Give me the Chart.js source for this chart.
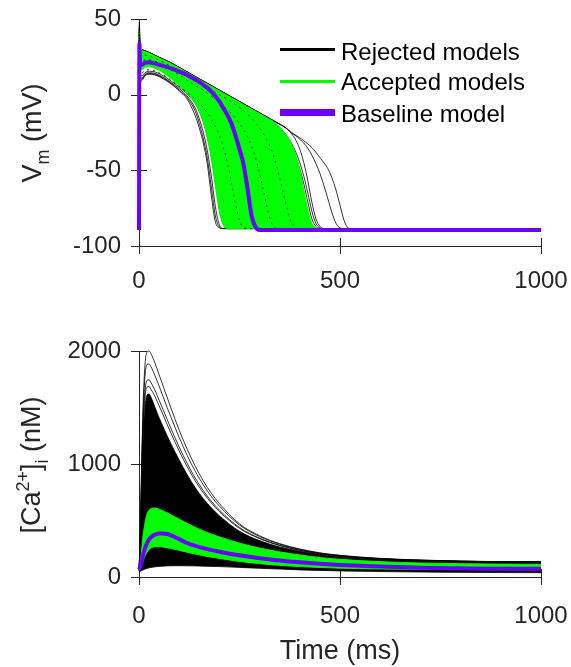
<!DOCTYPE html>
<html>
<head>
<meta charset="utf-8">
<script src="https://cdn.jsdelivr.net/npm/chart.js@4.4.1/dist/chart.umd.min.js"></script>
<style>
  html, body { margin: 0; padding: 0; background: #fff; }
  #wrap { position: relative; width: 571px; height: 667px; overflow: hidden;
          font-family: "Liberation Sans", Arial, sans-serif; color: #262626; }
  #wrap canvas { position: absolute; left: 0; top: 0; }
  .yt { position: absolute; white-space: nowrap; font-size: 27px; line-height: 27px;
        transform: translate(-50%, -50%) rotate(-90deg); }
  .xt { position: absolute; white-space: nowrap; font-size: 27px; line-height: 27px;
        transform: translate(-50%, -50%); }
  .yt sub, .yt sup { font-size: 18px; line-height: 0; }
  .yt sub { vertical-align: -8px; }
  .yt sup { vertical-align: 11px; }
  .lg-line { position: absolute; left: 280px; width: 55px; }
  .lg-text { position: absolute; left: 341px; font-size: 24px; line-height: 24px; white-space: nowrap; color: #000; }
</style>
</head>
<body>
<div id="wrap">
  <canvas id="apChart" width="571" height="667"></canvas>
  <canvas id="caChart" width="571" height="667"></canvas>

  <div class="yt" style="left:32px; top:133px;">V<sub>m</sub> (mV)</div>
  <div class="yt" style="left:31px; top:465px;">[Ca<sup>2+</sup>]<sub>i</sub> (nM)</div>
  <div class="xt" style="left:340px; top:650px;">Time (ms)</div>

  <div class="lg-line" style="top:48px; height:3px; background:#000;"></div>
  <div class="lg-text" style="top:40px;">Rejected models</div>
  <div class="lg-line" style="top:80px; height:3px; background:#00ff00;"></div>
  <div class="lg-text" style="top:70px;">Accepted models</div>
  <div class="lg-line" style="top:109px; height:7px; background:#6a00ff;"></div>
  <div class="lg-text" style="top:102px;">Baseline model</div>
</div>

<script>
// ---------- axis ticks ----------
const timeTicks = [0, 500, 1000];
const timeTickLabels = ['0', '500', '1000'];
const vmTicks = [-100, -50, 0, 50];
const vmTickLabels = ['-100', '-50', '0', '50'];
const caTicks = [0, 1000, 2000];
const caTickLabels = ['0', '1000', '2000'];

// ---------- action potentials (mV) ----------
const apTime = [0, 1, 2, 4, 8, 15, 25, 40, 60, 80, 100, 120,
  140, 150, 160, 170, 180, 190, 200, 210, 220, 230,
  240, 250, 260, 270, 280, 290, 300, 310, 320, 330,
  340, 350, 360, 370, 380, 390, 400, 410, 420, 430,
  440, 450, 460, 470, 480, 490, 500, 510, 520, 530,
  560, 600, 800, 1000];

const apRejectedEarly1 = [-88.5, 42, 20, 9, 9.5, 12.5, 13.5, 13, 10.5, 7, 2.5, -3,
  -14, -22, -32, -46, -67, -84, -88, -88.5, -88.5, -88.5,
  -88.5, -88.5, -88.5, -88.5, -88.5, -88.5, -88.5, -88.5, -88.5, -88.5,
  -88.5, -88.5, -88.5, -88.5, -88.5, -88.5, -88.5, -88.5, -88.5, -88.5,
  -88.5, -88.5, -88.5, -88.5, -88.5, -88.5, -88.5, -88.5, -88.5, -88.5,
  -88.5, -88.5, -88.5, -88.5];
const apRejectedEarly2 = [-88.5, 44, 22, 11, 11, 13.5, 14.5, 14, 11.5, 8, 4, -1,
  -9, -16, -25, -37, -54, -74, -86, -88.5, -88.5, -88.5,
  -88.5, -88.5, -88.5, -88.5, -88.5, -88.5, -88.5, -88.5, -88.5, -88.5,
  -88.5, -88.5, -88.5, -88.5, -88.5, -88.5, -88.5, -88.5, -88.5, -88.5,
  -88.5, -88.5, -88.5, -88.5, -88.5, -88.5, -88.5, -88.5, -88.5, -88.5,
  -88.5, -88.5, -88.5, -88.5];
const apRejectedEarly3 = [-88.5, 40, 24, 13, 12.5, 14.5, 15.5, 15, 12.5, 9, 5, 0.5,
  -6, -11, -18, -28, -41, -58, -76, -86, -88.5, -88.5,
  -88.5, -88.5, -88.5, -88.5, -88.5, -88.5, -88.5, -88.5, -88.5, -88.5,
  -88.5, -88.5, -88.5, -88.5, -88.5, -88.5, -88.5, -88.5, -88.5, -88.5,
  -88.5, -88.5, -88.5, -88.5, -88.5, -88.5, -88.5, -88.5, -88.5, -88.5,
  -88.5, -88.5, -88.5, -88.5];
const apRejectedEarly4 = [-88.5, 41, 21, 10, 10.5, 13, 14, 13.5, 11, 7.5, 3, -2,
  -11, -19, -29, -42, -61, -80, -87.5, -88.5, -88.5, -88.5,
  -88.5, -88.5, -88.5, -88.5, -88.5, -88.5, -88.5, -88.5, -88.5, -88.5,
  -88.5, -88.5, -88.5, -88.5, -88.5, -88.5, -88.5, -88.5, -88.5, -88.5,
  -88.5, -88.5, -88.5, -88.5, -88.5, -88.5, -88.5, -88.5, -88.5, -88.5,
  -88.5, -88.5, -88.5, -88.5];
const apRejectedMid1 = [-88.5, 42, 24, 15, 14.5, 16, 16.5, 15.5, 13, 9.5, 5.5, 1.5,
  -3, -5.5, -8.5, -12, -16, -21, -27, -35, -45, -58,
  -72, -83, -88, -88.5, -88.5, -88.5, -88.5, -88.5, -88.5, -88.5,
  -88.5, -88.5, -88.5, -88.5, -88.5, -88.5, -88.5, -88.5, -88.5, -88.5,
  -88.5, -88.5, -88.5, -88.5, -88.5, -88.5, -88.5, -88.5, -88.5, -88.5,
  -88.5, -88.5, -88.5, -88.5];
const apRejectedMid2 = [-88.5, 43, 28, 22, 22, 23, 23, 22, 19.5, 16.5, 13, 9.5,
  6, 4.5, 3, 1, -1, -3, -5, -7.5, -10, -12.5,
  -15.5, -19, -23, -28, -34, -42, -52, -64, -76, -85,
  -88, -88.5, -88.5, -88.5, -88.5, -88.5, -88.5, -88.5, -88.5, -88.5,
  -88.5, -88.5, -88.5, -88.5, -88.5, -88.5, -88.5, -88.5, -88.5, -88.5,
  -88.5, -88.5, -88.5, -88.5];
const apRejectedMid3 = [-88.5, 44, 30, 25, 25.5, 26, 25.5, 24, 21.5, 18.5, 15.5, 12,
  9, 7.5, 6, 4.5, 3, 1.5, 0, -1.5, -3, -4.5,
  -6.5, -8.5, -10.5, -13, -15.5, -18.5, -22, -26, -31, -37,
  -45, -55, -66, -77, -85, -88, -88.5, -88.5, -88.5, -88.5,
  -88.5, -88.5, -88.5, -88.5, -88.5, -88.5, -88.5, -88.5, -88.5, -88.5,
  -88.5, -88.5, -88.5, -88.5];
const apRejectedTop = [-88.5, 48, 33, 28.5, 29.5, 29, 28, 26, 23.5, 21, 18, 15,
  12, 10.5, 9, 7.5, 6, 4.5, 3, 1.5, 0, -1.5,
  -3, -4.5, -6, -7.5, -9, -10.5, -12, -13.5, -15, -16.5,
  -18, -19.5, -21, -23, -26, -30, -36, -45, -57, -71,
  -82, -87, -88.5, -88.5, -88.5, -88.5, -88.5, -88.5, -88.5, -88.5,
  -88.5, -88.5, -88.5, -88.5];
const apRejectedLate1 = [-88.5, 45, 32, 28, 29, 28.5, 27.5, 25.5, 23, 20.5, 17.5, 14.5,
  11.5, 10, 8.5, 7, 5.5, 4, 2.5, 1, -0.5, -2,
  -3.5, -5, -6.5, -8, -9.5, -11, -12.5, -14, -15.5, -17,
  -19, -21.5, -24.5, -28, -32.5, -38, -45, -54, -65, -77,
  -85, -88, -88.5, -88.5, -88.5, -88.5, -88.5, -88.5, -88.5, -88.5,
  -88.5, -88.5, -88.5, -88.5];
const apRejectedLate2 = [-88.5, 43, 30, 26.5, 27.5, 27, 26, 24, 21.5, 19, 16, 13,
  10, 8.5, 7, 5.5, 4, 2.5, 1, -0.5, -2, -3.5,
  -5, -6.5, -8, -9.5, -11, -12.5, -14, -15.5, -17, -19,
  -21, -23.5, -26.5, -30, -35, -41, -49, -59, -71, -82,
  -87, -88.5, -88.5, -88.5, -88.5, -88.5, -88.5, -88.5, -88.5, -88.5,
  -88.5, -88.5, -88.5, -88.5];
const apRejectedOutlier1 = [-88.5, 47, 33, 28.5, 29.5, 29, 28, 26, 23.5, 21, 18, 15,
  12, 10.5, 9, 7.5, 6, 4.5, 3, 1.5, 0, -1.5,
  -3, -4.5, -6, -7.5, -9, -10.5, -12, -13.5, -15, -16.5,
  -18, -19.5, -21, -23, -25, -27, -29.5, -32, -35.5, -40,
  -45.5, -52, -60, -69, -78, -85, -88, -88.5, -88.5, -88.5,
  -88.5, -88.5, -88.5, -88.5];
const apRejectedOutlier2 = [-88.5, 46, 33, 28.5, 29.5, 29, 28, 26, 23.5, 21, 18, 15,
  12, 10.5, 9, 7.5, 6, 4.5, 3, 1.5, 0, -1.5,
  -3, -4.5, -6, -7.5, -9, -10.5, -12, -13.5, -15, -16.5,
  -18, -19.5, -21, -23, -25.5, -27, -28.5, -30.5, -32.5, -35,
  -38, -41.5, -45, -49, -55, -63, -73, -83, -88, -88.5,
  -88.5, -88.5, -88.5, -88.5];

// accepted population: earliest and latest repolarising members bound the band
const apAcceptedEarly = [-88.5, 41, 26, 17, 16.5, 18, 18.5, 17.5, 14.5, 10.5, 6, 1,
  -6, -11, -18, -28, -42, -60, -77, -86, -88.5, -88.5,
  -88.5, -88.5, -88.5, -88.5, -88.5, -88.5, -88.5, -88.5, -88.5, -88.5,
  -88.5, -88.5, -88.5, -88.5, -88.5, -88.5, -88.5, -88.5, -88.5, -88.5,
  -88.5, -88.5, -88.5, -88.5, -88.5, -88.5, -88.5, -88.5, -88.5, -88.5,
  -88.5, -88.5, -88.5, -88.5];
const apAcceptedLate = [-88.5, 42, 32, 28, 29, 28.5, 27.5, 25.5, 23, 20.5, 17.5, 14.5,
  11.5, 10, 8.5, 7, 5.5, 4, 2.5, 1, -0.5, -2,
  -3.5, -5, -6.5, -8, -9.5, -11, -12.5, -14, -15.5, -17,
  -19, -21.5, -24.5, -28, -33, -40, -50, -63, -76, -85,
  -88, -88.5, -88.5, -88.5, -88.5, -88.5, -88.5, -88.5, -88.5, -88.5,
  -88.5, -88.5, -88.5, -88.5];

const apBaseline = [-89.5, 34, 24, 19.5, 20, 21, 21.5, 20.5, 19, 17.3, 15.3, 13,
  10, 8.5, 6.5, 4.5, 2, -1, -4.5, -9, -13.5, -19,
  -27, -36, -46, -62, -80, -87.5, -89.5, -89.5, -89.5, -89.5,
  -89.5, -89.5, -89.5, -89.5, -89.5, -89.5, -89.5, -89.5, -89.5, -89.5,
  -89.5, -89.5, -89.5, -89.5, -89.5, -89.5, -89.5, -89.5, -89.5, -89.5,
  -89.5, -89.5, -89.5, -89.5];

// ---------- calcium transients (nM) ----------
const caTime = [0, 3, 6, 10, 15, 20, 25, 30, 40, 50, 60, 70, 80, 100, 120, 140,
  160, 180, 200, 250, 300, 350, 400, 450, 500, 600, 700, 800, 900, 1000];

const caRejected1 = [60, 350, 900, 1500, 1880, 1990, 2000, 1975, 1890, 1790, 1690, 1590, 1490, 1300, 1130, 980,
  850, 740, 650, 470, 365, 295, 248, 214, 192, 165, 150, 141, 136, 134];
const caRejected2 = [60, 330, 850, 1420, 1780, 1880, 1885, 1860, 1780, 1690, 1595, 1500, 1410, 1235, 1075, 935,
  815, 712, 627, 460, 358, 290, 244, 211, 190, 163, 149, 140, 135, 133];
const caRejected3 = [60, 300, 800, 1330, 1650, 1740, 1745, 1720, 1650, 1565, 1480, 1395, 1310, 1150, 1005, 875,
  765, 670, 592, 438, 344, 281, 238, 207, 186, 161, 148, 139, 135, 133];
const caRejected4 = [60, 290, 770, 1280, 1590, 1680, 1685, 1660, 1595, 1515, 1435, 1350, 1270, 1115, 975, 850,
  745, 655, 578, 430, 339, 278, 235, 205, 185, 160, 147, 139, 134, 132];
const caRejectedHigh = [60, 270, 700, 1200, 1500, 1610, 1620, 1590, 1500, 1410, 1330, 1250, 1175, 1035, 905, 790,
  693, 612, 542, 405, 322, 266, 228, 200, 180, 156, 143, 137, 134, 133];
const caRejectedLow = [45, 50, 56, 63, 70, 76, 81, 85, 90, 94, 96, 98, 99, 100, 99, 98,
  96, 94, 92, 85, 77, 70, 63, 58, 54, 48, 44, 41, 39, 38];

const caAcceptedHigh = [65, 120, 220, 360, 480, 555, 590, 605, 610, 600, 585, 568, 550, 512, 475, 440,
  408, 380, 355, 300, 256, 222, 195, 172, 156, 136, 124, 118, 114, 112];
const caAcceptedLow = [60, 75, 100, 140, 185, 220, 243, 257, 268, 268, 265, 259, 252, 236, 219, 203,
  189, 176, 164, 138, 118, 103, 92, 84, 78, 71, 68, 66, 65, 65];

const caBaseline = [68, 90, 130, 190, 255, 300, 332, 352, 375, 385, 386, 380, 368, 335, 300, 275,
  255, 238, 224, 192, 166, 146, 130, 117, 107, 92, 82, 77, 73, 72];

// ---------- styling ----------
const FONT = '"Liberation Sans", Arial, sans-serif';
const AXIS = '#262626';
const BLACK = '#000000';
const GREEN = '#00ff00';
const PURPLE = '#6a00ff';

const pts = (t, v) => t.map((x, i) => ({ x, y: v[i] }));

function line(times, values, color, width, order, extra) {
  return Object.assign({
    data: pts(times, values),
    borderColor: color,
    borderWidth: width,
    backgroundColor: color,
    pointRadius: 0,
    fill: false,
    order: order,
    clip: 6,
    cubicInterpolationMode: 'monotone'
  }, extra || {});
}

// tick marks that cross the axis lines (inside and outside)
const crossTicks = {
  id: 'crossTicks',
  beforeDatasetsDraw(chart) {
    const { ctx } = chart;
    const xs = chart.scales.x, ys = chart.scales.y;
    const L = 8;
    ctx.save();
    ctx.strokeStyle = AXIS;
    ctx.lineWidth = 1;
    xs.ticks.forEach(t => {
      const p = Math.round(xs.getPixelForValue(t.value)) + 0.5;
      ctx.beginPath();
      ctx.moveTo(p, ys.bottom - L);
      ctx.lineTo(p, ys.bottom + L);
      ctx.stroke();
    });
    ys.ticks.forEach(t => {
      const p = Math.round(ys.getPixelForValue(t.value)) + 0.5;
      ctx.beginPath();
      ctx.moveTo(xs.left - L, p);
      ctx.lineTo(xs.left + L, p);
      ctx.stroke();
    });
    ctx.restore();
  }
};

function options(yMin, yMax, yTickList, yTickText, pad, xLabelPad) {
  return {
    responsive: false,
    animation: false,
    events: [],
    layout: { padding: pad },
    plugins: { legend: { display: false }, tooltip: { enabled: false } },
    scales: {
      x: {
        type: 'linear', min: 0, max: 1000,
        afterBuildTicks(s) { s.ticks = timeTicks.map(v => ({ value: v })); },
        afterFit(s) { s.height = 50; s.paddingLeft = 0; s.paddingRight = 0; },
        grid: { display: false, drawTicks: false },
        border: { display: true, color: AXIS, width: 1 },
        ticks: { padding: xLabelPad, color: AXIS, font: { family: FONT, size: 24 },
                 maxRotation: 0, autoSkip: false,
                 callback: v => timeTickLabels[timeTicks.indexOf(v)] }
      },
      y: {
        type: 'linear', min: yMin, max: yMax,
        afterBuildTicks(s) { s.ticks = yTickList.map(v => ({ value: v })); },
        afterFit(s) { s.width = 139; s.paddingTop = 0; s.paddingBottom = 0; },
        grid: { display: false, drawTicks: false },
        border: { display: true, color: AXIS, width: 1 },
        ticks: { padding: 18, color: AXIS, font: { family: FONT, size: 24 },
                 callback: v => yTickText[yTickList.indexOf(v)] }
      }
    }
  };
}

const DASHED = { borderDash: [2, 4] };

// ---------- membrane potential panel ----------
new Chart(document.getElementById('apChart'), {
  type: 'line',
  data: {
    datasets: [
      line(apTime, apBaseline, PURPLE, 4, 1),
      line(apTime, apRejectedMid1, BLACK, 0.8, 1.5, DASHED),
      line(apTime, apRejectedMid2, BLACK, 0.8, 1.5, DASHED),
      line(apTime, apRejectedMid3, BLACK, 0.8, 1.5, DASHED),
      line(apTime, apAcceptedEarly, GREEN, 1, 2, { fill: '+1', backgroundColor: GREEN }),
      line(apTime, apAcceptedLate, GREEN, 1, 2),
      line(apTime, apRejectedEarly1, BLACK, 0.8, 3),
      line(apTime, apRejectedEarly2, BLACK, 0.8, 3),
      line(apTime, apRejectedEarly3, BLACK, 0.8, 3),
      line(apTime, apRejectedEarly4, BLACK, 0.8, 3),
      line(apTime, apRejectedTop, BLACK, 0.8, 3),
      line(apTime, apRejectedLate1, BLACK, 0.8, 3),
      line(apTime, apRejectedLate2, BLACK, 0.8, 3),
      line(apTime, apRejectedOutlier1, BLACK, 0.8, 3),
      line(apTime, apRejectedOutlier2, BLACK, 0.8, 3)
    ]
  },
  options: options(-100, 50, vmTicks, vmTickLabels, { left: 0, right: 30, top: 19, bottom: 371 }, 21),
  plugins: [crossTicks]
});

// ---------- intracellular calcium panel ----------
new Chart(document.getElementById('caChart'), {
  type: 'line',
  data: {
    datasets: [
      line(caTime, caBaseline, PURPLE, 4, 1),
      line(caTime, caAcceptedLow, GREEN, 1, 2, { fill: '+1', backgroundColor: GREEN }),
      line(caTime, caAcceptedHigh, GREEN, 1, 2),
      line(caTime, caRejectedLow, BLACK, 0.8, 3, { fill: '+1', backgroundColor: BLACK }),
      line(caTime, caRejectedHigh, BLACK, 0.8, 3),
      line(caTime, caRejected1, BLACK, 0.8, 3),
      line(caTime, caRejected2, BLACK, 0.8, 3),
      line(caTime, caRejected3, BLACK, 0.8, 3),
      line(caTime, caRejected4, BLACK, 0.8, 3)
    ]
  },
  options: options(0, 2000, caTicks, caTickLabels, { left: 0, right: 30, top: 351, bottom: 40 }, 25),
  plugins: [crossTicks]
});
</script>
</body>
</html>
